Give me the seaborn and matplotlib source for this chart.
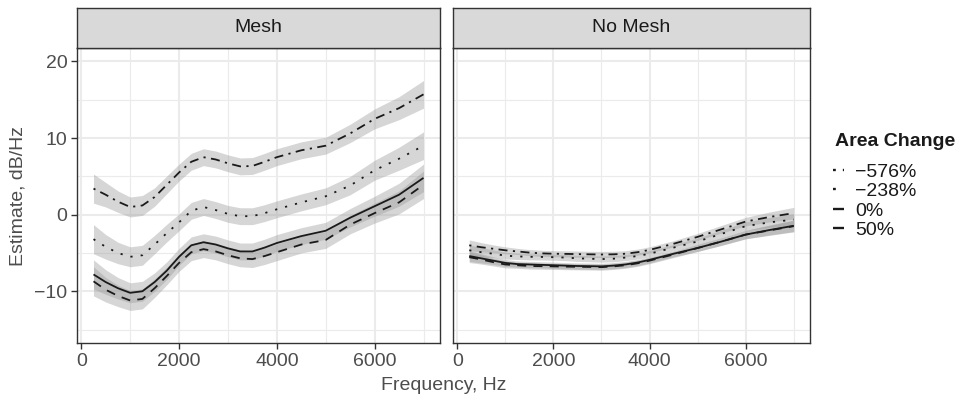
import numpy as np
import pandas as pd
import matplotlib
matplotlib.use("Agg")
import matplotlib.pyplot as plt
from matplotlib.lines import Line2D
import seaborn as sns

# ---------------- data ----------------
freq = [250, 500, 750, 1000, 1250, 1500, 1750, 2000, 2250, 2500, 2750, 3000, 3250, 3500, 3750,
        4000, 4500, 5000, 5500, 6000, 6500, 7000]
levels = ["\u2212576%", "\u2212238%", "0%", "50%"]
panels = ["Mesh", "No Mesh"]

mesh_m576 = [3.4, 2.6, 1.7, 1.0, 1.2, 2.3, 3.9, 5.5, 6.9, 7.5, 7.2, 6.7, 6.3, 6.35, 6.9,
             7.5, 8.4, 9.0, 10.6, 12.5, 13.9, 15.7]
mesh_m238 = [-3.2, -4.2, -5.0, -5.5, -5.3, -3.9, -2.4, -1.0, 0.5, 1.0, 0.6, 0.1, -0.2, -0.2, 0.2,
             0.7, 1.6, 2.4, 3.8, 5.8, 7.3, 9.0]
mesh_0 = [-7.8, -8.8, -9.6, -10.2, -10.0, -8.8, -7.3, -5.5, -4.0, -3.6, -3.9, -4.4, -4.8, -4.8, -4.3,
          -3.7, -2.8, -2.1, -0.4, 1.1, 2.6, 4.8]
mesh_50 = [-8.7, -9.8, -10.6, -11.2, -11.0, -9.6, -8.0, -6.3, -4.9, -4.5, -4.8, -5.3, -5.7, -5.8, -5.4,
           -4.9, -3.9, -3.3, -1.3, 0.2, 1.6, 3.9]

nomesh_m576 = [-4.0, -4.25, -4.45, -4.65, -4.8, -4.95, -5.05, -5.1, -5.12, -5.15, -5.18, -5.2, -5.18,
               -5.1, -4.9, -4.6, -3.8, -2.9, -1.9, -0.9, -0.3, 0.2]
nomesh_m238 = [-4.65, -4.9, -5.1, -5.35, -5.45, -5.5, -5.52, -5.55, -5.6, -5.7, -5.75, -5.8, -5.75,
               -5.6, -5.4, -5.1, -4.3, -3.5, -2.5, -1.5, -1.0, -0.65]
nomesh_0 = [-5.4, -5.7, -6.0, -6.3, -6.45, -6.5, -6.55, -6.6, -6.65, -6.7, -6.72, -6.75, -6.65,
            -6.5, -6.25, -5.9, -5.1, -4.35, -3.5, -2.6, -2.0, -1.45]
nomesh_50 = [-5.55, -5.85, -6.2, -6.5, -6.6, -6.7, -6.72, -6.75, -6.78, -6.8, -6.82, -6.85, -6.75,
             -6.6, -6.35, -6.0, -5.2, -4.35, -3.5, -2.6, -2.05, -1.5]

mesh_se = [1.9, 1.6, 1.4, 1.3, 1.3, 1.2, 1.15, 1.1, 1.1, 1.1, 1.1, 1.1, 1.1, 1.1, 1.1,
           1.1, 1.1, 1.1, 1.2, 1.3, 1.5, 1.8]
nomesh_se = [0.7, 0.6, 0.5, 0.45, 0.4, 0.4, 0.4, 0.4, 0.4, 0.4, 0.4, 0.4, 0.4, 0.4, 0.4,
             0.4, 0.4, 0.45, 0.5, 0.55, 0.65, 0.75]

series = {
    "Mesh": [mesh_m576, mesh_m238, mesh_0, mesh_50],
    "No Mesh": [nomesh_m576, nomesh_m238, nomesh_0, nomesh_50],
}
ses = {"Mesh": mesh_se, "No Mesh": nomesh_se}

rows = []
for p in panels:
    for lev, vals in zip(levels, series[p]):
        for f, v, s in zip(freq, vals, ses[p]):
            rows.append({"panel": p, "Area Change": lev, "freq": f, "est": v, "se": s})
df = pd.DataFrame(rows)

# ---------------- style ----------------
sns.set_theme(style="white")
plt.rcParams["font.family"] = ["Liberation Sans", "DejaVu Sans"]

W, H = 972, 403
fig = plt.figure(figsize=(W / 100, H / 100), dpi=100)

dash_map = {
    levels[0]: (1.2, 3, 5, 3),
    levels[1]: (1.2, 4.5),
    levels[2]: "",
    levels[3]: (5, 4),
}
LC = "#1a1a1a"
LW = 1.3
BORDER = "#333333"
TXT = "#4d4d4d"

ax_specs = [(77, 363), (453, 357)]
axes = []
for (x0, w), p in zip(ax_specs, panels):
    ax = fig.add_axes([x0 / W, 60 / H, w / W, 295 / H])
    axes.append(ax)
    sub = df[df["panel"] == p]
    ax.set_axisbelow(True)
    for lev in levels:
        d = sub[sub["Area Change"] == lev]
        ax.fill_between(d["freq"], d["est"] - d["se"], d["est"] + d["se"],
                        color="#999999", alpha=0.4, lw=0, zorder=1)
    sns.lineplot(data=sub, x="freq", y="est", style="Area Change", style_order=levels,
                 dashes=dash_map, color=LC, lw=LW, ax=ax, legend=False, zorder=3,
                 errorbar=None, sort=False)
    for line in ax.get_lines():
        line.set_dash_capstyle("butt")
        line.set_solid_capstyle("butt")
        line.set_solid_joinstyle("round")
    ax.set_xlim(-87.5, 7337.5)
    ax.set_ylim(-16.75, 21.75)
    ax.set_xticks([0, 2000, 4000, 6000])
    ax.set_xticks([1000, 3000, 5000, 7000], minor=True)
    ax.set_yticks([-10, 0, 10, 20])
    ax.set_yticks([-15, -5, 5, 15], minor=True)
    ax.grid(True, which="major", color="#ebebeb", lw=1.5, zorder=0)
    ax.grid(True, which="minor", color="#ebebeb", lw=0.8, zorder=0)
    ax.set_facecolor("white")
    for s in ax.spines.values():
        s.set_color(BORDER)
        s.set_linewidth(1.0)
    ax.set_xlabel("")
    ax.set_ylabel("")
    ax.tick_params(axis="x", which="major", direction="out", length=4, width=1,
                   color=BORDER, labelsize=14, labelcolor=TXT, pad=3, bottom=True)
    ax.tick_params(axis="x", which="minor", length=0, bottom=False)
    ax.tick_params(axis="y", which="minor", length=0, left=False)
    # strip
    sax = fig.add_axes([x0 / W, 355 / H, w / W, 40 / H])
    sax.set_facecolor("#d9d9d9")
    sax.set_xticks([])
    sax.set_yticks([])
    for s in sax.spines.values():
        s.set_color(BORDER)
        s.set_linewidth(1.0)
    sax.text(0.5, 0.5, p, ha="center", va="center", fontsize=14, color="#1a1a1a",
             transform=sax.transAxes)

axL, axR = axes
axL.set_yticklabels(["\u221210", "0", "10", "20"])
axL.tick_params(axis="y", which="major", direction="out", length=4, width=1, color=BORDER,
                labelsize=14, labelcolor=TXT, pad=3, left=True)
axR.tick_params(axis="y", which="major", length=0, left=False, labelleft=False)

fig.text(18 / W, 1 - 196 / H, "Estimate, dB/Hz", rotation=90, ha="center", va="center",
         fontsize=14, color=TXT)
fig.text(443.5 / W, 1 - 386 / H, "Frequency, Hz", ha="center", va="center",
         fontsize=14, color=TXT)

# legend
fig.text(835 / W, 1 - 142 / H, "Area Change", ha="left", va="center", fontsize=14,
         fontweight="bold", color="#1a1a1a")
handles = []
for l in levels:
    if dash_map[l]:
        h = Line2D([0], [0], color=LC, lw=LW * 1.3, dashes=dash_map[l], dash_capstyle="butt")
    else:
        h = Line2D([0], [0], color=LC, lw=LW * 1.3, ls="-", solid_capstyle="butt")
    handles.append(h)
leg = fig.legend(handles, levels, loc="upper left", bbox_to_anchor=(833 / W, 1 - 163 / H),
                 frameon=False, fontsize=14,
                 handlelength=0.55, handletextpad=0.6, labelspacing=0.1,
                 borderpad=0, borderaxespad=0)
for t in leg.get_texts():
    t.set_color("#1a1a1a")

fig.savefig("out.png", dpi=100)
